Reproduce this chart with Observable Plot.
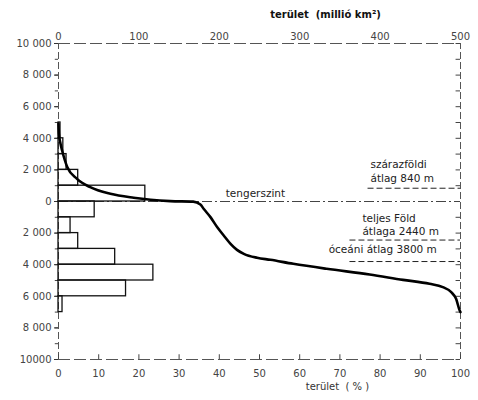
<!DOCTYPE html>
<html><head><meta charset="utf-8">
<script src="https://cdn.jsdelivr.net/npm/d3@7"></script>
<script src="https://cdn.jsdelivr.net/npm/@observablehq/plot@0.6"></script>
<style>
body{margin:0;background:#fff}
svg{font-family:"DejaVu Sans",sans-serif}
</style>
</head><body><div id="chart"></div>
<script>
// Hypsographic curve: cumulative area (%) vs elevation (m)
const curvePct  = [0, 0.1, 0.5, 0.9, 2.2, 4.6, 7.9, 12.9, 18.7, 22.9, 27.8, 33.5, 35.3, 36.1, 37.8, 39.5, 41.1, 42.8, 44.4, 46.1, 49.4, 52.7, 58.4, 66.7, 77.4, 85.7, 92.3, 95.6, 97.7, 98.9, 99.8, 100];
const curveElev = [4920, 4300, 3650, 3230, 2170, 1435, 905, 485, 235, 110, 25, -10, -190, -460, -990, -1630, -2150, -2680, -3060, -3310, -3560, -3690, -3945, -4260, -4620, -4960, -5210, -5420, -5740, -6160, -6900, -7000];

// Histogram: share of surface (%) per 1000 m band
const binLow  = [4000, 3000, 2000, 1000, 0, -1000, -2000, -3000, -4000, -5000, -6000, -7000];
const binHigh = [5000, 4000, 3000, 2000, 1000, 0, -1000, -2000, -3000, -4000, -5000, -6000];
const binPct  = [0.5, 1.2, 2.0, 4.9, 21.6, 9.0, 3.0, 4.9, 14.1, 23.6, 16.8, 1.0];

// Axes
const pctTicks = [0, 10, 20, 30, 40, 50, 60, 70, 80, 90, 100];
const areaTicks = [0, 100, 200, 300, 400, 500];
const elevTicks = [-10000, -8000, -6000, -4000, -2000, 0, 2000, 4000, 6000, 8000, 10000];
const elevTickLabels = ["10000", "8 000", "6 000", "4 000", "2 000", "0", "2 000", "4 000", "6 000", "8 000", "10 000"];
const minorTicks = [-10000,-9000,-8000,-7000,-6000,-5000,-4000,-3000,-2000,-1000,0,1000,2000,3000,4000,5000,6000,7000,8000,9000,10000];

// Average levels
const avgElev = [840, -2440, -3800];
const avgFrom = [77, 72.5, 72.5];

// Annotations
const annoText = ["tengerszint", "szárazföldi", "átlag 840 m", "teljes Föld", "átlaga 2440 m", "óceáni átlag 3800 m"];
const annoPct  = [41.6, 77.6, 77.6, 75.6, 75.6, 67.2];
const annoElev = [470, 2350, 1430, -1080, -1900, -3020];

const topTitle = "terület\u00a0\u00a0(millió km²)";
const bottomTitle = "terület\u00a0\u00a0(\u00a0%\u00a0)";

const frameStroke = "#555";

const chart = Plot.plot({
  width: 478,
  height: 400,
  marginLeft: 58,
  marginRight: 18,
  marginTop: 43,
  marginBottom: 41,
  x: {domain: [0, 100]},
  y: {domain: [-10000, 10000]},
  style: {fontFamily: "DejaVu Sans, sans-serif", fontSize: "10px", color: "#222"},
  marks: [
    // frame (dashed)
    Plot.ruleX([0, 100], {x: d => d, y1: -10000, y2: 10000, stroke: frameStroke, strokeDasharray: "7,3"}),
    Plot.ruleY([-10000, 10000], {y: d => d, x1: 0, x2: 100, stroke: frameStroke, strokeDasharray: "12,4"}),
    // sea level
    Plot.ruleY([0], {y: d => d, x1: 0, x2: 100, stroke: "#444", strokeDasharray: "10,3,2,3"}),
    // minor ticks
    Plot.ruleY(minorTicks, {y: d => d, x1: -0.8, x2: 0, stroke: "#444"}),
    Plot.ruleY(minorTicks, {y: d => d, x1: 98.9, x2: 100, stroke: "#444"}),
    Plot.ruleX(pctTicks, {x: d => d, y1: -10000, y2: -9700, stroke: "#444"}),
    // axes
    Plot.axisY({ticks: elevTicks, tickFormat: d => elevTickLabels[elevTicks.indexOf(d)], tickSize: 4, tickPadding: 3, label: null, fill: "#444", stroke: "#333"}),
    Plot.axisX({ticks: pctTicks, tickSize: 0, tickPadding: 10, label: null, fill: "#444"}),
    Plot.text(areaTicks, {x: d => d / 5, text: d => String(d), frameAnchor: "top", dy: -11, fill: "#444"}),
    // histogram
    Plot.rectX(binPct, {x1: 0, x2: d => d, y1: (d, i) => binLow[i], y2: (d, i) => binHigh[i], fill: "none", stroke: "#111", strokeWidth: 1.3}),
    // hypsographic curve
    Plot.line(curvePct, {x: d => d, y: (d, i) => curveElev[i], curve: "monotone-x", stroke: "#000", strokeWidth: 2.6}),
    // average lines
    Plot.ruleY(avgElev, {y: d => d, x1: (d, i) => avgFrom[i], x2: 100, stroke: "#222", strokeDasharray: "6,3"}),
    // annotations
    Plot.text(annoText, {x: (d, i) => annoPct[i], y: (d, i) => annoElev[i], text: d => d, textAnchor: "start", fontSize: 10.5, fill: "#222"}),
    // titles
    Plot.text([topTitle], {text: d => d, frameAnchor: "top", dx: 66, dy: -33, fontWeight: "bold", fontSize: 10, fill: "#111"}),
    Plot.text([bottomTitle], {text: d => d, frameAnchor: "bottom", dx: 78, dy: 30, fontSize: 10, fill: "#333"})
  ]
});
document.getElementById("chart").appendChild(chart);
</script>
</body></html>
